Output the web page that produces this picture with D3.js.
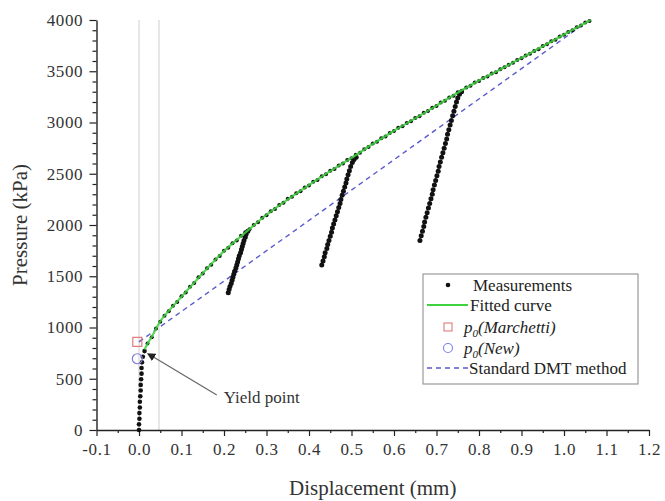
<!DOCTYPE html>
<html>
<head>
<meta charset="utf-8">
<script src="https://cdn.jsdelivr.net/npm/d3@7"></script>
<style>
  body { margin: 0; background: #fff; }
  text { font-family: "Liberation Serif", "Times New Roman", serif; }
</style>
</head>
<body>
<div id="chart"></div>
<script>
// tick values
const xMajor = [-0.1, 0.0, 0.1, 0.2, 0.3, 0.4, 0.5, 0.6, 0.7, 0.8, 0.9, 1.0, 1.1, 1.2]
const xMinor = [-0.05, 0.05, 0.15, 0.25, 0.35, 0.45, 0.55, 0.65, 0.75, 0.85, 0.95, 1.05, 1.15]
const yMajor = [0, 500, 1000, 1500, 2000, 2500, 3000, 3500, 4000]

// measurements: initial push (displacement mm, pressure kPa)
const initX = [0.000, 0.000, 0.001, 0.001, 0.002, 0.002, 0.003, 0.004, 0.004, 0.005, 0.006, 0.006, 0.007, 0.009, 0.013]
const initP = [0, 55, 110, 165, 220, 275, 330, 385, 440, 495, 550, 605, 660, 715, 770]

// measurements: loading branch
const loadX = [0.02, 0.03, 0.04, 0.05, 0.06, 0.07, 0.08, 0.09, 0.10, 0.11, 0.12, 0.13, 0.14, 0.15, 0.16, 0.17, 0.18, 0.19, 0.20,
  0.21, 0.22, 0.23, 0.24, 0.25, 0.26, 0.27, 0.28, 0.29, 0.30, 0.31, 0.32, 0.33, 0.34, 0.35, 0.36, 0.37, 0.38, 0.39, 0.40,
  0.41, 0.42, 0.43, 0.44, 0.45, 0.46, 0.47, 0.48, 0.49, 0.50, 0.51, 0.52, 0.53, 0.54, 0.55, 0.56, 0.57, 0.58, 0.59, 0.60,
  0.61, 0.62, 0.63, 0.64, 0.65, 0.66, 0.67, 0.68, 0.69, 0.70, 0.71, 0.72, 0.73, 0.74, 0.75, 0.76, 0.77, 0.78, 0.79, 0.80,
  0.81, 0.82, 0.83, 0.84, 0.85, 0.86, 0.87, 0.88, 0.89, 0.90, 0.91, 0.92, 0.93, 0.94, 0.95, 0.96, 0.97, 0.98, 0.99, 1.00,
  1.01, 1.02, 1.03, 1.04, 1.05, 1.06]
const loadP = [845, 905, 990, 1055, 1115, 1158, 1212, 1250, 1305, 1342, 1398, 1435, 1490, 1526, 1578, 1612, 1664, 1698, 1750,
  1778, 1822, 1850, 1894, 1930, 1958, 1999, 2027, 2070, 2096, 2135, 2157, 2194, 2216, 2255, 2275, 2310, 2330, 2366, 2386,
  2421, 2440, 2475, 2494, 2530, 2547, 2581, 2600, 2634, 2652, 2686, 2705, 2740, 2760, 2794, 2812, 2846, 2864, 2898, 2916,
  2948, 2964, 2996, 3012, 3044, 3061, 3094, 3111, 3144, 3161, 3194, 3211, 3244, 3261, 3294, 3310, 3342, 3358, 3390, 3406,
  3435, 3448, 3477, 3490, 3519, 3538, 3563, 3582, 3609, 3626, 3654, 3670, 3698, 3714, 3746, 3763, 3792, 3808, 3840, 3856,
  3884, 3900, 3930, 3946, 3975, 3991]

// measurements: reload branches
const reload1X = [0.210, 0.212, 0.214, 0.217, 0.219, 0.221, 0.223, 0.225, 0.228, 0.230, 0.232, 0.234, 0.236, 0.239, 0.241, 0.243, 0.245, 0.247, 0.250, 0.252, 0.256]
const reload1P = [1340, 1370, 1400, 1430, 1460, 1490, 1520, 1550, 1580, 1610, 1640, 1670, 1700, 1730, 1760, 1790, 1820, 1850, 1880, 1910, 1940]
const reload2X = [0.430, 0.433, 0.436, 0.438, 0.442, 0.444, 0.447, 0.450, 0.453, 0.455, 0.458, 0.461, 0.464, 0.467, 0.470, 0.473, 0.475, 0.478, 0.481, 0.484, 0.487, 0.489, 0.492, 0.495, 0.498, 0.502, 0.506, 0.511]
const reload2P = [1610, 1650, 1690, 1730, 1770, 1810, 1850, 1890, 1930, 1970, 2010, 2050, 2090, 2130, 2170, 2210, 2250, 2290, 2330, 2370, 2410, 2450, 2490, 2530, 2570, 2610, 2640, 2660]
const reload3X = [0.661, 0.664, 0.667, 0.670, 0.672, 0.675, 0.678, 0.681, 0.684, 0.687, 0.690, 0.692, 0.695, 0.698, 0.701, 0.704, 0.706, 0.709, 0.712, 0.715, 0.718, 0.721, 0.724, 0.726, 0.729, 0.732, 0.735, 0.738, 0.741, 0.744, 0.747, 0.750, 0.754, 0.759]
const reload3P = [1850, 1895, 1940, 1985, 2030, 2075, 2120, 2165, 2210, 2255, 2300, 2345, 2390, 2435, 2480, 2525, 2570, 2615, 2660, 2705, 2750, 2795, 2840, 2885, 2930, 2975, 3020, 3065, 3110, 3155, 3200, 3240, 3275, 3300]

// fitted curve
const fitX = [0.013, 0.02, 0.03, 0.05, 0.075, 0.10, 0.15, 0.20, 0.25, 0.30, 0.35, 0.40, 0.45, 0.50, 0.55, 0.60, 0.65, 0.70, 0.75, 0.80, 0.85, 0.90, 0.95, 1.00, 1.063]
const fitP = [785, 840, 910, 1060, 1185, 1300, 1530, 1745, 1925, 2100, 2250, 2390, 2525, 2655, 2790, 2920, 3040, 3165, 3290, 3410, 3518, 3630, 3744, 3858, 4000]

// standard DMT method line
const dmtX = [0.0, 1.05]
const dmtP = [860, 3970]

// p0 estimates
const p0MarchettiX = -0.004, p0MarchettiP = 860
const p0NewX = -0.004, p0NewP = 695

// reference lines and yield annotation
const guideX = [0.0, 0.047]
const yieldArrowX = [0.034, 0.183], yieldArrowP = [712, 341]
const yieldLabel = "Yield point"

const width = 665, height = 501
const x = d3.scaleLinear().domain([-0.1, 1.2]).range([96.5, 649])
const y = d3.scaleLinear().domain([0, 4000]).range([430, 20])

const svg = d3.select("#chart").append("svg")
  .attr("width", width)
  .attr("height", height)
  .style("background", "#fff")

const zip = (xs, ys) => xs.map((d, i) => [d, ys[i]])

// light vertical guides
svg.selectAll(".guide").data(guideX).enter().append("line")
  .attr("x1", d => x(d)).attr("x2", d => x(d))
  .attr("y1", y(0)).attr("y2", y(4000))
  .attr("stroke", "#cfcfcf").attr("stroke-width", 1)

// axes
const fmtX = d => (d < 0 ? "-" : "") + Math.abs(d).toFixed(1)
const xAxis = svg.append("g").attr("transform", `translate(0,${y(0)})`)
  .call(d3.axisBottom(x).tickValues(xMajor).tickFormat(fmtX).tickSize(6).tickSizeOuter(0))
svg.append("g").attr("transform", `translate(0,${y(0)})`)
  .call(d3.axisBottom(x).tickValues(xMinor).tickFormat("").tickSize(3).tickSizeOuter(0))
  .select(".domain").remove()

const yMinor = d3.range(0, 4001, 100).filter(v => v % 500 !== 0)
const yAxis = svg.append("g").attr("transform", `translate(${x(-0.1)},0)`)
  .call(d3.axisLeft(y).tickValues(yMajor).tickFormat(d3.format("d")).tickSize(7).tickSizeOuter(0))
svg.append("g").attr("transform", `translate(${x(-0.1)},0)`)
  .call(d3.axisLeft(y).tickValues(yMinor).tickFormat("").tickSize(4).tickSizeOuter(0))
  .select(".domain").remove()

svg.selectAll(".domain").attr("stroke", "#222").attr("stroke-width", 1.4)
svg.selectAll(".tick line").attr("stroke", "#222").attr("stroke-width", 1.2)
svg.selectAll(".tick text")
  .attr("font-family", "Liberation Serif, serif")
  .attr("font-size", 17).attr("fill", "#333")
  .attr("letter-spacing", "0.6px")
xAxis.selectAll(".tick text").attr("dy", "0.95em")
yAxis.selectAll(".tick text").attr("dx", "-0.2em")

// axis titles
svg.append("text")
  .attr("x", (x(-0.1) + x(1.2)) / 2).attr("y", 495)
  .attr("text-anchor", "middle")
  .attr("font-size", 21).attr("fill", "#333")
  .text("Displacement (mm)")
svg.append("text")
  .attr("transform", `translate(27,${(y(0) + y(4000)) / 2}) rotate(-90)`)
  .attr("text-anchor", "middle")
  .attr("font-size", 21).attr("fill", "#333")
  .text("Pressure (kPa)")

// DMT dashed line
svg.append("path")
  .datum(zip(dmtX, dmtP))
  .attr("d", d3.line().x(d => x(d[0])).y(d => y(d[1])))
  .attr("fill", "none").attr("stroke", "#5a5ad0").attr("stroke-width", 1.4)
  .attr("stroke-dasharray", "5,4")

// measurement dots
const dot = (xs, ps, r) => {
  svg.append("g").selectAll("circle").data(zip(xs, ps)).enter().append("circle")
    .attr("cx", d => x(d[0])).attr("cy", d => y(d[1]))
    .attr("r", r).attr("fill", "#111")
}
dot(initX, initP, 2.3)
dot(loadX, loadP, 2.0)
dot(reload1X, reload1P, 2.5)
dot(reload2X, reload2P, 2.5)
dot(reload3X, reload3P, 2.5)

// fitted curve
svg.append("path")
  .datum(zip(fitX, fitP))
  .attr("d", d3.line().x(d => x(d[0])).y(d => y(d[1])).curve(d3.curveMonotoneX))
  .attr("fill", "none").attr("stroke", "#3fd23f").attr("stroke-width", 2.2)
  .attr("stroke-opacity", 0.85)

// p0 markers
svg.append("rect")
  .attr("x", x(p0MarchettiX) - 4.5).attr("y", y(p0MarchettiP) - 4.5)
  .attr("width", 9).attr("height", 9)
  .attr("fill", "none").attr("stroke", "#e07a7a").attr("stroke-width", 1.2)
svg.append("circle")
  .attr("cx", x(p0NewX)).attr("cy", y(p0NewP)).attr("r", 5)
  .attr("fill", "none").attr("stroke", "#7f7fe0").attr("stroke-width", 1.2)

// yield point annotation
svg.append("defs").append("marker")
  .attr("id", "arrow").attr("viewBox", "0 0 10 10")
  .attr("refX", 1).attr("refY", 5)
  .attr("markerWidth", 7).attr("markerHeight", 7)
  .attr("orient", "auto-start-reverse")
  .append("path").attr("d", "M0,0 L10,5 L0,10 z").attr("fill", "#222")
svg.append("line")
  .attr("x1", x(yieldArrowX[0])).attr("y1", y(yieldArrowP[0]))
  .attr("x2", x(yieldArrowX[1])).attr("y2", y(yieldArrowP[1]))
  .attr("stroke", "#666").attr("stroke-width", 1.2)
  .attr("marker-start", "url(#arrow)")
svg.append("text")
  .attr("x", x(yieldArrowX[1]) + 7).attr("y", y(yieldArrowP[1]) + 8)
  .attr("font-size", 17).attr("fill", "#333")
  .text(yieldLabel)

// legend
const lg = svg.append("g")
lg.append("rect")
  .attr("x", 423).attr("y", 274).attr("width", 215).attr("height", 110)
  .attr("fill", "#fff").attr("stroke", "#9a9a9a").attr("stroke-width", 1.2)
const rowY = [285, 305, 327, 348, 368]
lg.append("circle").attr("cx", 448).attr("cy", rowY[0]).attr("r", 2.3).attr("fill", "#111")
lg.append("line").attr("x1", 427).attr("x2", 468).attr("y1", rowY[1]).attr("y2", rowY[1])
  .attr("stroke", "#3fd23f").attr("stroke-width", 2.2)
lg.append("rect").attr("x", 444).attr("y", rowY[2] - 4).attr("width", 8).attr("height", 8)
  .attr("fill", "none").attr("stroke", "#e07a7a").attr("stroke-width", 1.1)
lg.append("circle").attr("cx", 448).attr("cy", rowY[3]).attr("r", 4.5)
  .attr("fill", "none").attr("stroke", "#7f7fe0").attr("stroke-width", 1.1)
lg.append("line").attr("x1", 427).attr("x2", 468).attr("y1", rowY[4]).attr("y2", rowY[4])
  .attr("stroke", "#5a5ad0").attr("stroke-width", 1.4).attr("stroke-dasharray", "5,4")

const lt = (tx, ty) => lg.append("text").attr("x", tx).attr("y", ty + 5.5)
  .attr("font-size", 17).attr("fill", "#222")
lt(473, rowY[0]).text("Measurements")
lt(470, rowY[1]).text("Fitted curve")
const t1 = lt(464, rowY[2]).attr("font-style", "italic")
t1.append("tspan").text("p")
t1.append("tspan").attr("font-size", 11).attr("dy", 4).text("0")
t1.append("tspan").attr("dy", -4).text("(Marchetti)")
const t2 = lt(464, rowY[3]).attr("font-style", "italic")
t2.append("tspan").text("p")
t2.append("tspan").attr("font-size", 11).attr("dy", 4).text("0")
t2.append("tspan").attr("dy", -4).text("(New)")
lt(469, rowY[4]).text("Standard DMT method")
</script>
</body>
</html>
